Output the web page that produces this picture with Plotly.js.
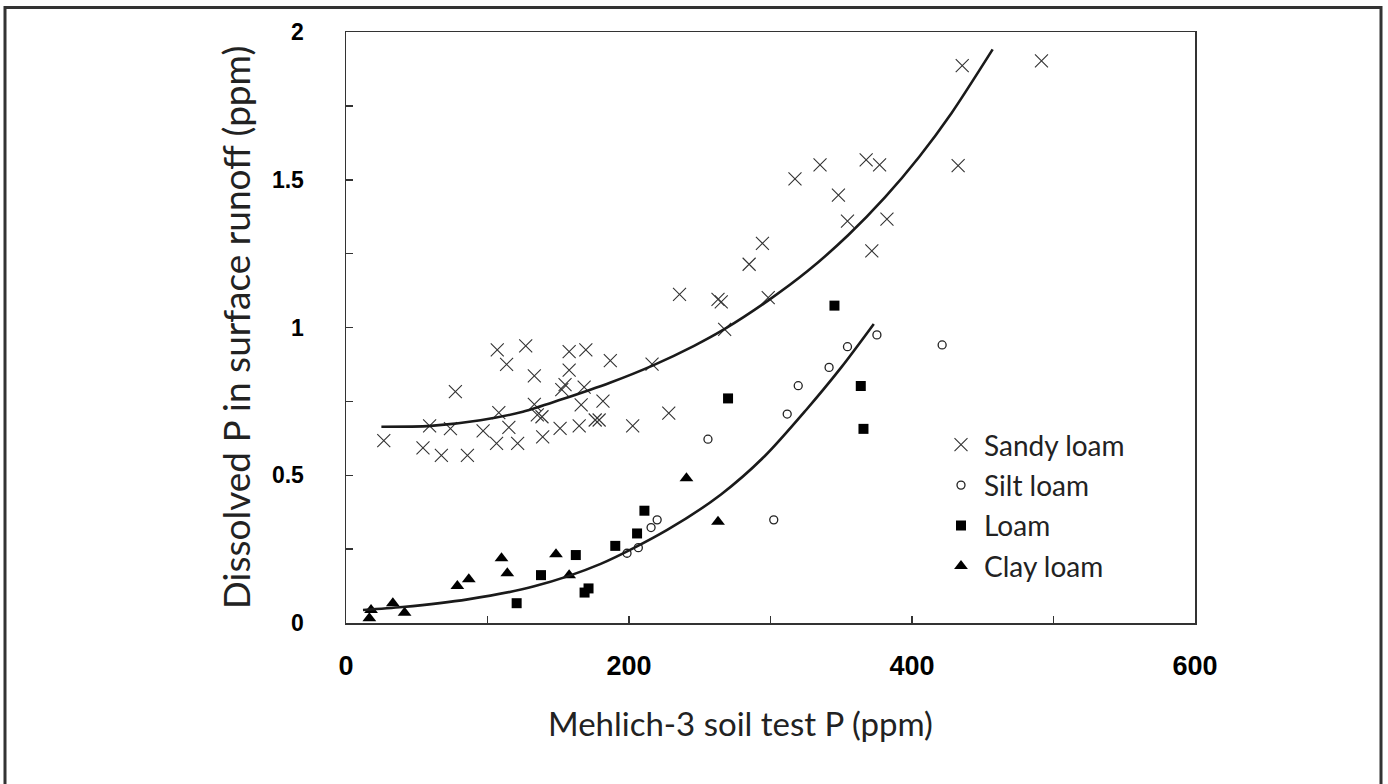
<!DOCTYPE html>
<html>
<head>
<meta charset="utf-8">
<script src="https://cdn.plot.ly/plotly-3.0.1.min.js"></script>
<style>
  html, body { margin: 0; padding: 0; background: #fff; }
  #chart { width: 1388px; height: 784px; }
</style>
</head>
<body>
<div id="chart"></div>
<script>
// ---- Data ----
const sandyX = [26.7, 54.4, 59.1, 67.4, 73.8, 77.3, 85.8, 96.9, 106.4, 106.9, 108.0, 113.5, 115.1, 121.3, 127.0, 133.1, 133.1, 135.2, 138.5, 139.0, 151.3, 152.5, 154.8, 157.7, 157.7, 164.8, 166.2, 168.3, 169.5, 176.1, 178.9, 181.6, 186.8, 202.6, 216.3, 228.1, 235.7, 262.9, 265.2, 267.6, 284.9, 294.3, 298.4, 317.3, 335.0, 348.0, 354.4, 367.6, 377.1, 382.3, 371.6, 432.6, 435.5, 491.5];
const sandyY = [0.617, 0.593, 0.667, 0.567, 0.658, 0.783, 0.567, 0.650, 0.608, 0.924, 0.712, 0.875, 0.662, 0.608, 0.938, 0.836, 0.740, 0.704, 0.698, 0.630, 0.659, 0.790, 0.807, 0.918, 0.856, 0.667, 0.738, 0.798, 0.924, 0.687, 0.687, 0.751, 0.888, 0.667, 0.876, 0.710, 1.112, 1.095, 1.087, 0.994, 1.214, 1.285, 1.101, 1.503, 1.550, 1.448, 1.360, 1.567, 1.550, 1.367, 1.259, 1.548, 1.886, 1.902];

const siltX = [198.6, 206.6, 215.6, 219.9, 255.8, 302.3, 311.8, 319.6, 341.4, 354.4, 375.2, 421.3];
const siltY = [0.236, 0.255, 0.323, 0.349, 0.622, 0.349, 0.707, 0.803, 0.865, 0.935, 0.975, 0.941];

const loamX = [120.6, 137.8, 162.4, 168.6, 171.4, 190.3, 205.7, 210.9, 270.0, 345.2, 363.8, 365.7];
const loamY = [0.067, 0.162, 0.230, 0.103, 0.117, 0.261, 0.303, 0.380, 0.760, 1.074, 0.802, 0.657];

const clayX = [16.5, 17.7, 33.1, 41.4, 78.7, 86.8, 109.9, 114.0, 148.4, 157.7, 240.6, 262.9];
const clayY = [0.016, 0.044, 0.067, 0.035, 0.125, 0.148, 0.219, 0.168, 0.233, 0.162, 0.490, 0.343];

// trend curves
const sandyCurveX = [25, 60, 95, 125, 152, 187, 217, 246, 268, 298, 326, 355, 381, 405, 428, 457];
const sandyCurveY = [0.664, 0.667, 0.686, 0.715, 0.756, 0.814, 0.872, 0.938, 0.996, 1.090, 1.190, 1.313, 1.441, 1.577, 1.726, 1.941];

const otherCurveX = [12, 40, 86, 133, 180, 227, 265, 296, 325, 350, 373];
const otherCurveY = [0.044, 0.054, 0.080, 0.124, 0.200, 0.315, 0.435, 0.565, 0.720, 0.865, 1.012];

const xTickLabels = ['0', '200', '400', '600'];
const yTickLabels = ['0', '0.5', '1', '1.5', '2'];

const names = ['Sandy loam', 'Silt loam', 'Loam', 'Clay loam'];
const xTitle = 'Mehlich-3 soil test P (ppm)';
const yTitle = 'Dissolved P in surface runoff (ppm)';

// ---- Traces ----
const ink = '#1a1a1a';
const traces = [
  {
    x: sandyX, y: sandyY, type: 'scatter', mode: 'markers', name: names[0],
    legendgroup: 'a',
    marker: { symbol: 'x-thin', size: 13, line: { width: 1.1, color: '#333' }, color: '#333' }
  },
  {
    x: siltX, y: siltY, type: 'scatter', mode: 'markers', name: names[1],
    legendgroup: 'b',
    marker: { symbol: 'circle-open', size: 8, line: { width: 1.3, color: '#222' }, color: '#222' }
  },
  {
    x: loamX, y: loamY, type: 'scatter', mode: 'markers', name: names[2],
    legendgroup: 'c',
    marker: { symbol: 'square', size: 10, color: '#000' }
  },
  {
    x: clayX, y: clayY, type: 'scatter', mode: 'markers', name: names[3],
    legendgroup: 'd',
    marker: { symbol: 'triangle-up', size: 12, color: '#000' }
  },
  {
    x: sandyCurveX, y: sandyCurveY, type: 'scatter', mode: 'lines', showlegend: false,
    line: { color: ink, width: 2.6, shape: 'spline', smoothing: 0.8 }, hoverinfo: 'skip'
  },
  {
    x: otherCurveX, y: otherCurveY, type: 'scatter', mode: 'lines', showlegend: false,
    line: { color: ink, width: 2.6, shape: 'spline', smoothing: 0.8 }, hoverinfo: 'skip'
  }
];

const W = 1388, H = 784;
const L = 346, R = 193, T = 32, B = 161;
const pw = W - L - R, ph = H - T - B;
const px = v => (v - L) / pw;
const py = v => (H - B - v) / ph;

const layout = {
  width: W, height: H,
  margin: { l: L, r: R, t: T, b: B, pad: 0 },
  paper_bgcolor: '#fff', plot_bgcolor: '#fff',
  showlegend: true,
  font: { family: 'Lato, "Liberation Sans", sans-serif', color: '#222' },
  xaxis: {
    range: [0, 600], tickvals: [0, 200, 400, 600], ticktext: xTickLabels,
    ticks: 'inside', ticklen: 7, tickwidth: 1.5, tickcolor: '#333',
    minor: { dtick: 100, ticks: 'inside', ticklen: 7, tickwidth: 1.5, tickcolor: '#333' },
    showline: true, linecolor: '#333', linewidth: 1.5, mirror: true,
    showgrid: false, zeroline: false, fixedrange: true,
    ticklabelstandoff: 18,
    tickfont: { family: '"Liberation Sans", Arial, sans-serif', size: 27, weight: 'bold', color: '#000' }
  },
  yaxis: {
    range: [0, 2], tickvals: [0, 0.5, 1, 1.5, 2], ticktext: yTickLabels,
    ticks: 'inside', ticklen: 7, tickwidth: 1.5, tickcolor: '#333',
    minor: { dtick: 0.25, ticks: 'inside', ticklen: 7, tickwidth: 1.5, tickcolor: '#333' },
    showline: true, linecolor: '#333', linewidth: 1.5, mirror: true,
    showgrid: false, zeroline: false, fixedrange: true,
    ticklabelstandoff: 36,
    tickfont: { family: '"Liberation Sans", Arial, sans-serif', size: 23, weight: 'bold', color: '#000' },
    title: { text: yTitle, standoff: 10,
             font: { family: 'Lato, sans-serif', size: 37, color: '#222' } }
  },
  annotations: [
    {
      text: xTitle, xref: 'paper', yref: 'paper', x: px(740), y: py(723),
      xanchor: 'center', yanchor: 'middle', showarrow: false,
      font: { family: 'Lato, sans-serif', size: 33, color: '#222' }
    }
  ],
  legend: {
    x: px(938), y: py(420), xanchor: 'left', yanchor: 'top',
    bgcolor: 'rgba(0,0,0,0)', borderwidth: 0,
    font: { family: 'Lato, sans-serif', size: 28, color: '#222' },
    traceorder: 'grouped', tracegroupgap: 1, itemclick: false, itemwidth: 36
  },
  shapes: [
    {
      type: 'rect', xref: 'paper', yref: 'paper',
      x0: px(5), x1: px(1381), y0: py(800), y1: py(7.5),
      line: { color: '#333', width: 3 }, fillcolor: 'rgba(0,0,0,0)', layer: 'below'
    }
  ]
};

Plotly.newPlot('chart', traces, layout, { displayModeBar: false, staticPlot: true });
</script>
</body>
</html>
